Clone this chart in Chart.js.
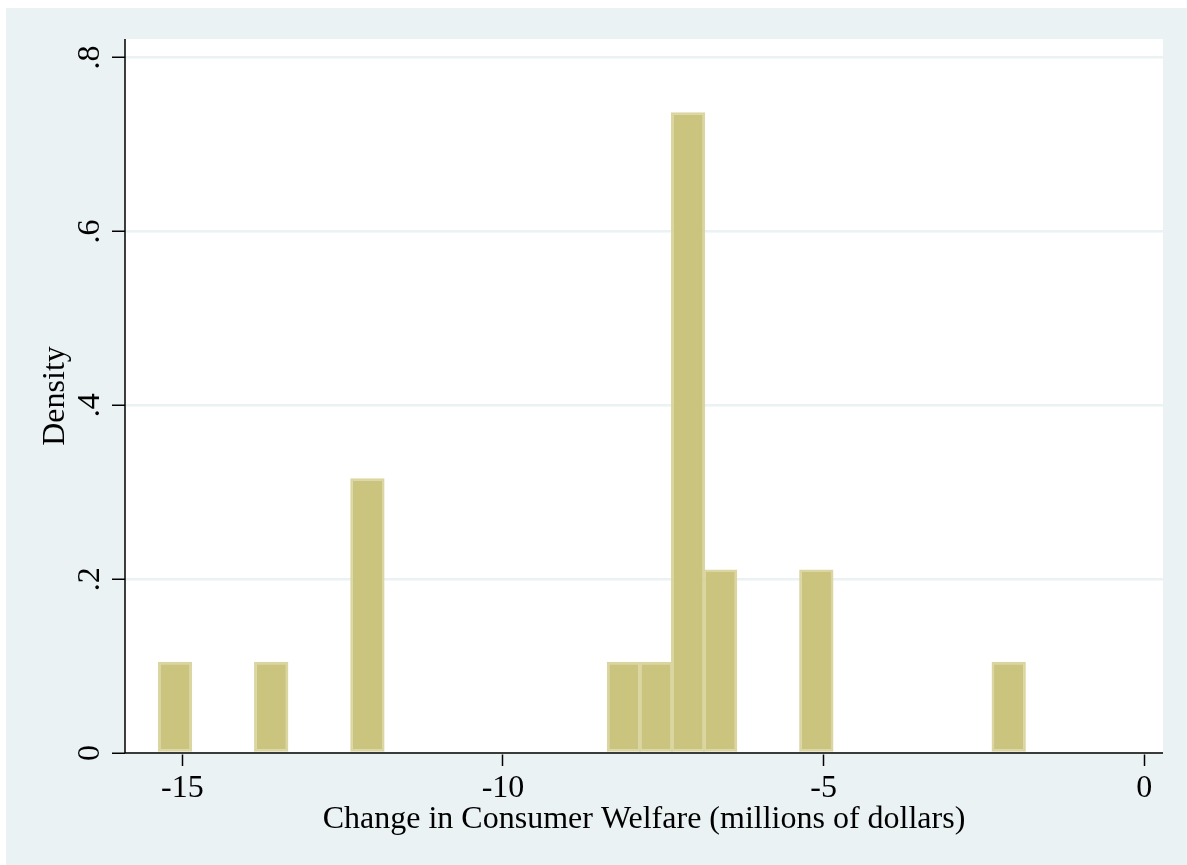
<!DOCTYPE html>
<html>
<head>
<meta charset="utf-8">
<title>Change in Consumer Welfare</title>
<style>
  html, body { margin: 0; padding: 0; background: #ffffff; }
  #wrap { width: 1187px; height: 865px; position: relative; }
</style>
<script src="https://cdn.jsdelivr.net/npm/chart.js@4.4.1/dist/chart.umd.min.js"></script>
</head>
<body>
<div id="wrap"><canvas id="chart" width="1187" height="865"></canvas></div>
<script>
// Histogram bins (width 0.5, millions of dollars) and their densities
const binCenters = [-15.114, -13.614, -12.114, -8.114, -7.614, -7.114, -6.614, -5.114, -2.114];
const densities  = [0.105, 0.105, 0.316, 0.105, 0.105, 0.737, 0.211, 0.211, 0.105];

// Axis ticks
const xTicks = [-15, -10, -5, 0];
const xTickLabels = ['-15', '-10', '-5', '0'];
const yTicks = [0, 0.2, 0.4, 0.6, 0.8];
const yTickLabels = ['0', '.2', '.4', '.6', '.8'];

const xTitle = 'Change in Consumer Welfare (millions of dollars)';
const yTitle = 'Density';

const FONT = '"Liberation Serif", "Times New Roman", serif';
const FONT_SIZE = 32;
const BG = '#eaf2f3';

// Page background, inner plot region
const backgroundPlugin = {
  id: 'backgrounds',
  beforeDraw(chart) {
    const { ctx, width, height, chartArea: a } = chart;
    ctx.save();
    ctx.fillStyle = '#ffffff';
    ctx.fillRect(0, 0, width, height);
    ctx.fillStyle = BG;
    ctx.fillRect(6, 8, width - 6, height - 8);
    ctx.fillStyle = '#ffffff';
    ctx.fillRect(a.left, a.top, a.right - a.left, a.bottom - a.top);
    ctx.restore();
  }
};

// Axis lines on top of the bars, and vertical y tick labels
const axesPlugin = {
  id: 'axesOnTop',
  afterDatasetsDraw(chart) {
    const { ctx, chartArea: a } = chart;
    ctx.save();
    ctx.strokeStyle = '#000000';
    ctx.lineWidth = 1.5;
    ctx.beginPath();
    ctx.moveTo(a.left, a.top);
    ctx.lineTo(a.left, a.bottom);
    ctx.lineTo(a.right, a.bottom);
    ctx.stroke();
    ctx.restore();
  },
  afterDraw(chart) {
    const { ctx } = chart;
    const yScale = chart.scales.y;
    ctx.save();
    ctx.fillStyle = '#000000';
    ctx.font = FONT_SIZE + 'px ' + FONT;
    ctx.textAlign = 'center';
    ctx.textBaseline = 'alphabetic';
    yTicks.forEach((v, i) => {
      const py = yScale.getPixelForValue(v);
      ctx.save();
      ctx.translate(99, py);
      ctx.rotate(-Math.PI / 2);
      ctx.fillText(yTickLabels[i], 0, 0);
      ctx.restore();
    });
    ctx.restore();
  }
};

new Chart(document.getElementById('chart'), {
  type: 'bar',
  data: {
    datasets: [{
      data: binCenters.map((x, i) => ({ x: x, y: densities[i] })),
      backgroundColor: '#cbc47f',
      borderColor: '#dad5a1',
      borderWidth: 2.5,
      borderSkipped: false,
      barPercentage: 1.07,
      categoryPercentage: 1
    }]
  },
  options: {
    responsive: false,
    animation: false,
    devicePixelRatio: 1,
    layout: { padding: { top: 39, right: 24, bottom: 0, left: 0 } },
    plugins: {
      legend: { display: false },
      tooltip: { enabled: false }
    },
    scales: {
      x: {
        type: 'linear',
        position: 'bottom',
        offset: false,
        min: -15.894,
        max: 0.292,
        afterBuildTicks(scale) { scale.ticks = xTicks.map(v => ({ value: v })); },
        afterFit(scale) { scale.height = 112; },
        border: { display: false },
        grid: {
          offset: false,
          drawOnChartArea: false,
          drawTicks: true,
          tickLength: 13,
          tickColor: '#000000',
          tickWidth: 1.5
        },
        ticks: {
          autoSkip: false,
          maxRotation: 0,
          padding: 3,
          color: '#000000',
          font: { family: FONT, size: FONT_SIZE },
          callback(value) {
            const i = xTicks.indexOf(value);
            return i >= 0 ? xTickLabels[i] : '';
          }
        },
        title: {
          display: true,
          text: xTitle,
          color: '#000000',
          font: { family: FONT, size: FONT_SIZE },
          padding: { top: 0, bottom: 26 }
        }
      },
      y: {
        type: 'linear',
        position: 'left',
        min: 0,
        max: 0.8213,
        afterBuildTicks(scale) { scale.ticks = yTicks.map(v => ({ value: v })); },
        afterFit(scale) { scale.width = 125; },
        border: { display: false },
        grid: {
          color: BG,
          lineWidth: 2.5,
          drawTicks: true,
          tickLength: 13,
          tickColor: '#000000',
          tickWidth: 1.5
        },
        ticks: {
          color: 'rgba(0,0,0,0)',
          font: { family: FONT, size: FONT_SIZE }
        },
        title: {
          display: true,
          text: yTitle,
          color: '#000000',
          font: { family: FONT, size: FONT_SIZE },
          padding: { top: 36, bottom: 0 }
        }
      }
    }
  },
  plugins: [backgroundPlugin, axesPlugin]
});
</script>
</body>
</html>
